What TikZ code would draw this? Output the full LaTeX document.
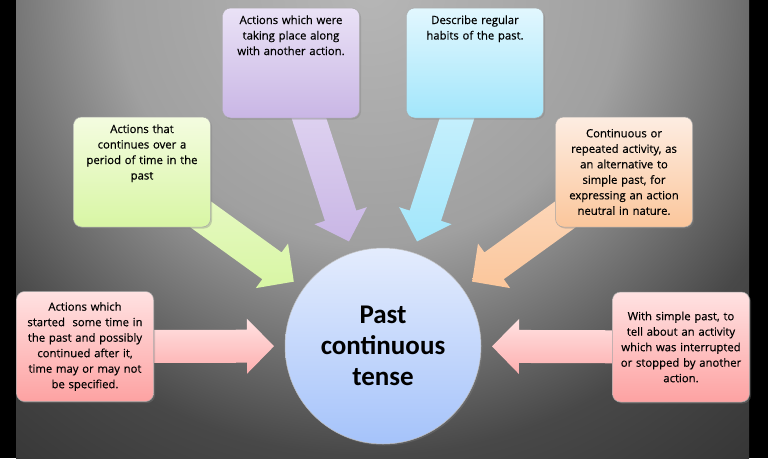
\documentclass[tikz,border=0pt]{standalone}
\usepackage{fontspec}
\setmainfont{Open Sans}[FakeBold=0.5]
\newfontfamily\corefont{Carlito}
\usetikzlibrary{calc,shadows}
\definecolor{bgc0}{HTML}{B6B6B6}
\definecolor{bgc1}{HTML}{A0A0A0}
\definecolor{bgc2}{HTML}{484848}
\definecolor{bgc3}{HTML}{1A1A1A}
\definecolor{pulight}{HTML}{EAE2F6}
\definecolor{pudark}{HTML}{C9B6E5}
\definecolor{bllight}{HTML}{E2F7FE}
\definecolor{bldark}{HTML}{A2E6FB}
\definecolor{grlight}{HTML}{F4FCE0}
\definecolor{grdark}{HTML}{D8F6A4}
\definecolor{orlight}{HTML}{FDEDE2}
\definecolor{ordark}{HTML}{FBC69B}
\definecolor{pklight}{HTML}{FFE2E2}
\definecolor{pkdark}{HTML}{FDA2A2}
\definecolor{corelight}{HTML}{E4ECFD}
\definecolor{coredark}{HTML}{A5C3FA}
\pgfdeclareradialshading{backshade}{\pgfpoint{0bp}{0bp}}{color(0bp)=(bgc0); color(10.6bp)=(bgc1); color(19.4bp)=(bgc2); color(34.2bp)=(bgc3); color(50bp)=(bgc3)}
\pgfdeclarelayer{backdrop}
\pgfdeclarelayer{arrowlayer}
\pgfsetlayers{backdrop,arrowlayer,main}
\newcommand{\fatarrow}[3]{%
  \coordinate (hb) at ($(#2)!27pt!(#1)$);
  \path[#3] ($(#1)!16.5pt!90:(#2)$) -- ($(hb)!16.5pt!90:(#2)$) -- ($(hb)!27.5pt!90:(#2)$)
    -- (#2) -- ($(hb)!27.5pt!-90:(#2)$) -- ($(hb)!16.5pt!-90:(#2)$) -- ($(#1)!16.5pt!-90:(#2)$) -- cycle;}

\begin{document}
\begin{tikzpicture}[x=1pt,y=-1pt,
  every node/.style={font=\fontsize{11.3}{15.5}\selectfont,align=center},
  box/.style={rounded corners=8pt,draw=black!35,line width=0.5pt,text width=129pt,inner xsep=4pt,minimum height=110pt,
    drop shadow={opacity=0.35,shadow xshift=1.5pt,shadow yshift=-1.5pt}},
  topbox/.style={box,inner ysep=0pt,text height=16pt,text depth=94pt},
  core/.style={circle,minimum size=196pt,inner sep=0pt,draw=black!25,line width=0.5pt,top color=corelight,bottom color=coredark,
    font=\corefont\bfseries\fontsize{27}{31}\selectfont,drop shadow={opacity=0.35,shadow xshift=1.5pt,shadow yshift=-1.5pt}},
  puarrow/.style={top color=pulight!90!pudark,bottom color=pudark},
  blarrow/.style={top color=bllight!80!bldark,bottom color=bldark},
  grarrow/.style={top color=grlight!70!grdark,bottom color=grdark},
  orarrow/.style={top color=orlight!60!ordark,bottom color=ordark},
  pkarrow/.style={top color=pklight,bottom color=pkdark!80!pklight}
]
  \useasboundingbox (0,0) rectangle (768,458);
  \begin{pgfonlayer}{backdrop}
    \fill[black] (0,0) rectangle (768,458);
    \begin{scope}
      \clip (16,0) rectangle (749,458);
      \shade[shading=backshade] (-230,-610) rectangle (970,590);
    \end{scope}
  \end{pgfonlayer}
  \node[core] (core) at (383,346) {Past\\continuous\\tense};
  \node[topbox,top color=pulight,bottom color=pudark] (pu) at (291,63) {Actions which were\\taking place along\\with another action.};
  \node[topbox,top color=bllight,bottom color=bldark] (bl) at (475,63) {Describe regular\\habits of the past.};
  \node[topbox,top color=grlight,bottom color=grdark] (gr) at (142,172) {Actions that\\continues over a\\period of time in the\\past};
  \node[box,top color=orlight,bottom color=ordark] (or) at (624,172) {Continuous or\\repeated activity, as\\an alternative to\\simple past, for\\expressing an action\\neutral in nature.};
  \node[box,top color=pklight,bottom color=pkdark] (pkl) at (85,346.5) {Actions which\\started\ \ some time in\\the past and possibly\\continued after it,\\time may or may not\\be specified.};
  \node[box,top color=pklight,bottom color=pkdark] (pkr) at (681,347) {With simple past, to\\tell about an activity\\which was interrupted\\or stopped by another\\action.};
  \coordinate (tippu) at ($(core.center)!110pt!(pu.center)$);
  \coordinate (tipbl) at ($(core.center)!110pt!(bl.center)$);
  \coordinate (tipgr) at ($(core.center)!110pt!(gr.center)$);
  \coordinate (tipor) at ($(core.center)!110pt!(or.center)$);
  \coordinate (tippkl) at ($(core.center)!109pt!(pkl.center)$);
  \coordinate (tippkr) at ($(core.center)!109pt!(pkr.center)$);
  \begin{pgfonlayer}{arrowlayer}
    \fatarrow{pu.center}{tippu}{puarrow}
    \fatarrow{bl.center}{tipbl}{blarrow}
    \fatarrow{gr.center}{tipgr}{grarrow}
    \fatarrow{or.center}{tipor}{orarrow}
    \fatarrow{pkl.center}{tippkl}{pkarrow}
    \fatarrow{pkr.center}{tippkr}{pkarrow}
  \end{pgfonlayer}
\end{tikzpicture}
\end{document}
